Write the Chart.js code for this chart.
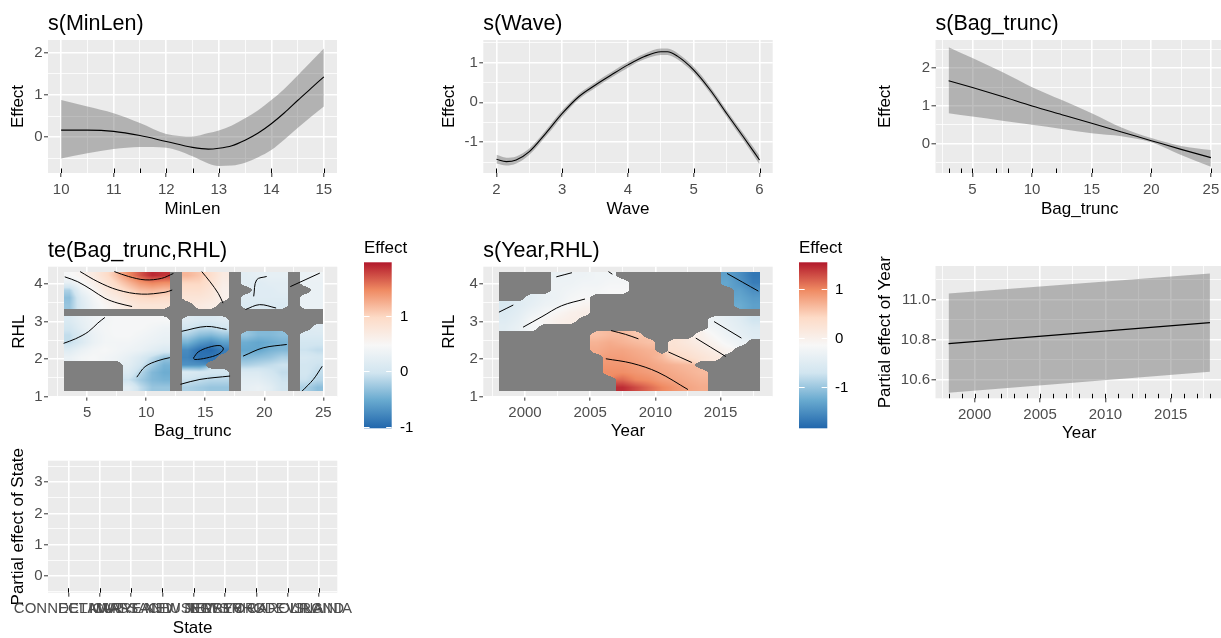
<!DOCTYPE html>
<html><head><meta charset="utf-8">
<script src="https://cdn.jsdelivr.net/npm/chart.js@4.4.1/dist/chart.umd.min.js"></script>
<style>
html,body{margin:0;padding:0;background:#fff;width:1221px;height:638px;overflow:hidden;position:relative;}
canvas{position:absolute;}
</style></head><body>
<script>
const N = null;
// ---------- s(MinLen) ----------
const minLenX     = [10, 10.5, 11, 11.5, 12, 12.5, 12.8, 13, 13.25, 13.5, 13.75, 14, 14.25, 14.5, 14.75, 15];
const minLenFit   = [0.17, 0.17, 0.14, 0.04, -0.1, -0.24, -0.28, -0.26, -0.2, -0.07, 0.1, 0.32, 0.58, 0.87, 1.15, 1.43];
const minLenUpper = [0.88, 0.73, 0.57, 0.34, 0.08, 0.02, 0.1, 0.16, 0.28, 0.45, 0.64, 0.88, 1.15, 1.46, 1.78, 2.1];
const minLenLower = [-0.5, -0.38, -0.28, -0.23, -0.25, -0.45, -0.62, -0.68, -0.67, -0.6, -0.47, -0.3, -0.05, 0.22, 0.48, 0.73];
const minLenRug   = [10, 11, 11.5, 12, 12.5, 13, 14, 15];
// ---------- s(Wave) ----------
const waveX     = [2, 2.15, 2.3, 2.5, 2.75, 3, 3.25, 3.5, 3.75, 4, 4.25, 4.5, 4.6, 4.75, 5, 5.25, 5.5, 5.75, 6];
const waveFit   = [-1.43, -1.49, -1.45, -1.24, -0.78, -0.28, 0.14, 0.43, 0.69, 0.94, 1.15, 1.27, 1.27, 1.16, 0.81, 0.31, -0.28, -0.86, -1.45];
const waveUpper = [-1.32, -1.39, -1.36, -1.16, -0.7, -0.2, 0.21, 0.5, 0.76, 1.01, 1.22, 1.35, 1.35, 1.24, 0.89, 0.39, -0.2, -0.77, -1.34];
const waveLower = [-1.54, -1.59, -1.54, -1.32, -0.86, -0.36, 0.07, 0.36, 0.62, 0.87, 1.08, 1.19, 1.19, 1.08, 0.73, 0.23, -0.36, -0.95, -1.56];
const waveRug   = [2, 3, 4, 5, 6];
// ---------- s(Bag_trunc) ----------
const bagX     = [3, 5, 7.5, 10, 12.5, 15, 17.5, 20, 22.5, 25];
const bagFit   = [1.67, 1.49, 1.25, 1.0, 0.77, 0.54, 0.31, 0.08, -0.15, -0.37];
const bagUpper = [2.56, 2.27, 1.9, 1.5, 1.16, 0.81, 0.43, 0.15, -0.06, -0.17];
const bagLower = [0.81, 0.72, 0.61, 0.5, 0.39, 0.28, 0.2, 0.04, -0.3, -0.61];
const bagRug   = [3, 4, 5, 7, 8, 10, 12, 15, 20, 25];
// ---------- te(Bag_trunc,RHL) ----------
const teBagEdges = [3,4,5,6,7,8,9,10,11,12,13,14,15,16,17,18,19,20,21,22,23,24,25];
const rhlEdges   = [4.33, 4.131, 3.933, 3.734, 3.535, 3.336, 3.138, 2.939, 2.74, 2.541, 2.343, 2.144, 1.945, 1.746, 1.548, 1.349, 1.15];
const teGrid = [
 [0.45,0.55,0.7,0.9,1.15,1.45,1.7,1.9,1.85,N,1.2,1.1,0.9,0.7,N,0.2,0.25,0.25,0.25,N,0.3,0.35],
 [0.25,0.45,0.6,0.8,1.0,1.2,1.4,1.5,1.45,N,1.0,1.0,0.85,0.65,N,0.2,0.15,0.2,0.2,N,0.3,0.3],
 [-0.2,0.3,0.5,0.7,0.85,1.0,1.15,1.2,1.15,N,0.9,0.9,0.8,0.6,N,N,0.15,0.15,0.2,N,N,0.3],
 [-0.35,0.15,0.4,0.6,0.7,0.85,0.95,1.0,0.95,N,0.8,0.8,0.75,0.6,N,0.15,0.15,0.15,0.15,N,0.3,0.3],
 [-0.3,0.1,0.35,0.5,0.6,0.7,0.8,0.8,0.8,N,N,0.7,0.65,N,N,0.1,0.1,0.1,0.1,N,0.3,0.3],
 [N,N,N,N,N,N,N,N,N,N,N,N,N,N,N,N,N,N,N,N,N,N],
 [0.1,0.25,0.35,0.4,0.45,0.45,0.45,0.45,0.45,N,0.15,0.1,0.1,0.15,N,N,N,N,N,N,N,N],
 [0.0,0.2,0.35,0.42,0.45,0.45,0.45,0.4,0.35,N,0.0,-0.1,-0.1,0.0,N,N,N,N,N,N,N,0.15],
 [-0.1,0.1,0.3,0.4,0.45,0.45,0.4,0.35,0.3,N,-0.2,-0.35,-0.4,-0.3,N,-0.3,-0.4,-0.4,-0.35,N,0.1,0.1],
 [-0.1,0.1,0.3,0.4,0.4,0.4,0.35,0.3,0.25,N,-0.45,-0.65,-0.75,-0.6,N,-0.5,-0.55,-0.5,-0.45,N,0.0,0.0],
 [0.15,0.3,0.4,0.45,0.4,0.35,0.3,0.2,0.1,N,-0.75,-0.95,-1.0,-0.85,N,-0.55,-0.55,-0.45,-0.4,N,-0.05,-0.1],
 [0.3,0.4,0.45,0.4,0.35,0.25,0.1,-0.1,-0.3,N,-0.8,-0.95,-0.9,N,N,-0.4,-0.35,-0.3,-0.2,N,0.05,0.0],
 [N,N,N,N,N,0.2,0.0,-0.25,-0.45,N,-0.7,-0.7,N,N,N,-0.2,-0.15,-0.1,-0.05,N,0.0,-0.05],
 [N,N,N,N,N,0.1,-0.15,-0.4,-0.5,N,0.1,0.05,0.0,0.0,N,0.1,0.1,0.0,-0.1,N,0.0,-0.1],
 [N,N,N,N,N,-0.05,-0.25,-0.4,-0.45,N,-0.05,-0.1,-0.15,-0.15,N,0.2,0.2,0.1,-0.05,N,-0.05,-0.15],
 [N,N,N,N,N,0.2,-0.1,-0.3,-0.3,N,-0.2,-0.25,-0.3,-0.3,N,0.25,0.3,0.2,0.0,N,-0.2,-0.35]
];
const teLimits = [-1.03, 1.97];
const teContours = [
 [[7.3,4.33],[8.5,4.2],[9.9,4.11],[11.3,4.15],[12.3,4.28]],
 [[4.4,4.33],[5.9,4.06],[7.6,3.84],[9.6,3.73],[11.6,3.78],[12.2,3.84]],
 [[3.1,4.19],[4.2,4.06],[5.4,3.84],[6.5,3.62],[7.6,3.49],[8.8,3.4]],
 [[14.7,4.33],[15.4,4.06],[16.1,3.75],[16.5,3.49]],
 [[19.1,3.67],[19.35,4.11],[20.2,4.2]],
 [[18.4,3.32],[19.6,3.45],[21.0,3.36]],
 [[22.2,3.93],[24.7,4.29]],
 [[3.0,2.42],[4.0,2.54],[5.1,2.73],[5.9,2.96],[6.5,3.11]],
 [[14.0,2.03],[14.4,2.19],[15.25,2.31],[16.24,2.36],[16.53,2.27],[16.1,2.13],[15.1,2.03],[14.1,1.99],[14.0,2.03]],
 [[9.2,1.52],[9.9,1.8],[11.0,1.96],[12.0,2.04]],
 [[13.0,2.74],[15.1,2.87],[16.8,2.79]],
 [[18.2,2.08],[19.9,2.3],[21.9,2.39]],
 [[23.2,1.15],[24.15,1.46],[24.9,1.81]],
 [[12.9,1.33],[14.55,1.46],[17.1,1.55]]
];
// ---------- s(Year,RHL) ----------
const yearEdges = [1998,1999,2000,2001,2002,2003,2004,2005,2006,2007,2008,2009,2010,2011,2012,2013,2014,2015,2016,2017,2018];
const yrGrid = [
 [N,N,N,N,-0.35,-0.3,-0.3,-0.25,-0.25,N,N,N,N,N,N,N,N,-1.35,-1.5,-1.7],
 [N,N,N,N,-0.3,-0.3,-0.25,-0.25,-0.2,-0.2,N,N,N,N,N,N,N,-1.3,-1.45,-1.65],
 [N,N,N,N,-0.3,-0.25,-0.2,-0.2,-0.15,-0.15,N,N,N,N,N,N,N,N,-1.35,-1.5],
 [N,N,-0.45,-0.35,-0.3,-0.2,-0.15,N,N,N,N,N,N,N,N,N,N,N,-1.3,-1.4],
 [-0.6,-0.5,-0.4,-0.3,-0.25,-0.15,-0.05,N,N,N,N,N,N,N,N,N,N,N,-1.25,-1.35],
 [-0.55,-0.45,-0.3,-0.2,-0.1,0.0,0.05,N,N,N,N,N,N,N,N,N,N,N,N,N],
 [-0.5,-0.4,-0.2,-0.1,0.0,0.05,N,N,N,N,N,N,N,N,N,N,-0.3,-0.4,-0.5,-0.7],
 [-0.45,-0.35,-0.2,N,N,N,N,N,N,N,N,N,N,N,N,N,-0.25,-0.35,-0.45,-0.55],
 [N,N,N,N,N,N,N,0.6,0.65,0.65,0.55,N,N,N,N,0.0,-0.15,-0.3,-0.4,-0.5],
 [N,N,N,N,N,N,N,0.7,0.75,0.7,0.65,0.6,N,0.25,0.15,0.05,-0.05,-0.2,-0.3,N],
 [N,N,N,N,N,N,N,0.75,0.8,0.8,0.75,0.7,N,0.3,0.25,0.15,0.05,-0.05,N,N],
 [N,N,N,N,N,N,N,N,0.85,0.85,0.8,0.75,0.65,0.45,0.35,0.25,0.15,N,N,N],
 [N,N,N,N,N,N,N,N,0.9,0.9,0.85,0.8,0.75,0.7,0.65,N,N,N,N,N],
 [N,N,N,N,N,N,N,N,0.95,0.95,0.9,0.85,0.8,0.75,0.7,0.65,N,N,N,N],
 [N,N,N,N,N,N,N,N,N,1.15,1.0,0.95,0.85,0.8,0.75,0.7,N,N,N,N],
 [N,N,N,N,N,N,N,N,N,1.45,1.3,1.15,1.0,0.9,0.8,0.75,N,N,N,N]
];
const yrLimits = [-1.84, 1.55];
const yrContours = [
 [[1998.0,3.25],[1999.1,3.44]],
 [[1999.85,2.85],[2001.3,3.13],[2002.8,3.42],[2004.6,3.6]],
 [[2002.4,4.19],[2003.6,4.3]],
 [[2006.4,4.33],[2006.7,4.26]],
 [[2015.5,4.28],[2017.9,3.81]],
 [[2006.6,2.76],[2007.7,2.66],[2008.7,2.54]],
 [[2006.2,2.01],[2008.2,1.89],[2010.2,1.65],[2012.5,1.19]],
 [[2011.0,2.19],[2012.8,1.91]],
 [[2013.1,2.56],[2015.4,2.07]],
 [[2014.5,3.0],[2016.6,2.56]]
];
// ---------- Partial effect of Year ----------
const yearX     = [1998, 2018];
const yearFit   = [10.78, 10.885];
const yearUpper = [11.03, 11.13];
const yearLower = [10.535, 10.64];
const yearRug   = [1998,1999,2000,2001,2002,2003,2004,2005,2006,2007,2008,2009,2010,2011,2012,2013,2014,2015,2016,2017,2018];
// ---------- Partial effect of State ----------
const stateNames = ['CONNECTICUT','DELAWARE','MARYLAND','MASSACHUSETTS','NEW JERSEY','NEW YORK','NORTH CAROLINA','RHODE ISLAND','VIRGINIA'];
const statePos   = [1,2,3,4,5,6,7,8,9];

// ================= rendering =================
const FONT = '"Liberation Sans", Arial, Helvetica, sans-serif';
const TITLE_PX = 21.5, AXT_PX = 17, TICK_PX = 15;
const RIBBON = 'rgba(100,100,100,0.42)';
const RDBU = ['#2166AC','#67A9CF','#D1E5F0','#F7F7F7','#FDDBC7','#EF8A62','#B2182B'];
const RDBU_RGB = RDBU.map(h => [1,3,5].map(i => parseInt(h.substr(i,2),16)));
Chart.defaults.font.family = FONT;
Chart.defaults.color = '#4D4D4D';
Chart.defaults.animation = false;

function rampRGB(v, lo, hi) {
  let t = (v - lo) / (hi - lo); t = Math.max(0, Math.min(1, t));
  const p = t * (RDBU_RGB.length - 1);
  const i = Math.min(Math.floor(p), RDBU_RGB.length - 2), f = p - i;
  const a = RDBU_RGB[i], b = RDBU_RGB[i+1];
  return a.map((c,k) => Math.round(c + (b[k]-c)*f));
}
const clamp = (v, a, b) => Math.max(a, Math.min(b, v));
const pts = (xs, ys) => xs.map((x,i) => ({x, y: ys[i]}));
function ribbonSets(xs, fit, up, lo) {
  return [
    {data: pts(xs, fit), borderColor:'#000', borderWidth:1.1, pointRadius:0, fill:false, cubicInterpolationMode:'monotone'},
    {data: pts(xs, up), borderWidth:0, borderColor:'rgba(0,0,0,0)', pointRadius:0, fill:'+1', backgroundColor:RIBBON, cubicInterpolationMode:'monotone'},
    {data: pts(xs, lo), borderWidth:0, borderColor:'rgba(0,0,0,0)', pointRadius:0, fill:false, cubicInterpolationMode:'monotone'}
  ];
}
function contourSets(list) {
  return list.map(c => ({data: c.map(p => ({x:p[0], y:p[1]})), borderColor:'#000', borderWidth:1, pointRadius:0, fill:false, tension:0.35}));
}

function axisCfg(ax, isX, size, titlePad) {
  const all = ax.majors.concat(ax.minors || []).sort((a,b) => a-b);
  const isMajor = v => ax.majors.some(m => Math.abs(m - v) < 1e-9);
  const maj = c => c && c.tick && isMajor(c.tick.value);
  return {
    type:'linear', min:ax.min, max:ax.max, position: isX ? 'bottom' : 'left',
    afterBuildTicks: s => { s.ticks = all.map(v => ({value:v})); },
    afterFit: s => { if (isX) s.height = size; else s.width = size; },
    ticks: {autoSkip:false, maxRotation:0, minRotation:0, padding: isX ? 3.5 : 1.5,
      font:{size:TICK_PX}, color:'#4D4D4D',
      callback: v => isMajor(v) ? ax.label(v) : ''},
    grid: {color:'#FFFFFF', lineWidth: c => maj(c) ? 1.6 : 0.8, drawTicks:true, tickLength:4, tickWidth:1,
      tickColor: c => maj(c) ? '#333333' : 'rgba(0,0,0,0)'},
    border: {display:false},
    title: {display:true, text:ax.title, color:'#000', font:{size:AXT_PX}, padding:titlePad}
  };
}

function drawHeat(chart, h) {
  const xs = chart.scales.x, ys = chart.scales.y, ctx = chart.ctx;
  const nR = h.grid.length, nC = h.grid[0].length;
  const xa = xs.getPixelForValue(h.xEdges[0]), xb = xs.getPixelForValue(h.xEdges[nC]);
  const ya = ys.getPixelForValue(h.yEdges[0]), yb = ys.getPixelForValue(h.yEdges[nR]);
  const px0 = Math.round(Math.min(xa, xb)), px1 = Math.round(Math.max(xa, xb));
  const py0 = Math.round(Math.min(ya, yb)), py1 = Math.round(Math.max(ya, yb));
  const W = px1 - px0, H = py1 - py0;
  const img = ctx.createImageData(W, H);
  const cw = (h.xEdges[nC] - h.xEdges[0]) / nC, rh = (h.yEdges[nR] - h.yEdges[0]) / nR;
  for (let j = 0; j < H; j++) {
    const yv = ys.getValueForPixel(py0 + j + 0.5);
    const fy = clamp((yv - h.yEdges[0]) / rh - 0.5, 0, nR - 1);
    const r0 = Math.min(Math.floor(fy), nR - 2), ty = fy - r0;
    for (let i = 0; i < W; i++) {
      const xv = xs.getValueForPixel(px0 + i + 0.5);
      const fx = clamp((xv - h.xEdges[0]) / cw - 0.5, 0, nC - 1);
      const c0 = Math.min(Math.floor(fx), nC - 2), tx = fx - c0;
      const cs = [[r0, c0, (1-ty)*(1-tx)], [r0, c0+1, (1-ty)*tx], [r0+1, c0, ty*(1-tx)], [r0+1, c0+1, ty*tx]];
      let m = 0, s = 0;
      for (const [r, c, w] of cs) { const v = h.grid[r][c]; if (v !== null) { m += w; s += w * v; } }
      const rgb = m < 0.5 ? [127,127,127] : rampRGB(s / m, h.lim[0], h.lim[1]);
      const k = (j * W + i) * 4;
      img.data[k] = rgb[0]; img.data[k+1] = rgb[1]; img.data[k+2] = rgb[2]; img.data[k+3] = 255;
    }
  }
  ctx.putImageData(img, px0, py0);
}

function makePanel(cfg) {
  const B = cfg.box, A = cfg.area;
  const cv = document.createElement('canvas');
  cv.width = B.w; cv.height = B.h;
  cv.style.left = B.x + 'px'; cv.style.top = B.y + 'px';
  cv.style.width = B.w + 'px'; cv.style.height = B.h + 'px';
  document.body.appendChild(cv);
  const yW = A.l - B.x, xH = B.y + B.h - A.b;
  const lh = AXT_PX * 1.2;
  const plugin = {
    id: 'panel' + cfg.id,
    beforeDraw(chart) {
      const {ctx, chartArea:a} = chart;
      ctx.save(); ctx.fillStyle = '#EBEBEB';
      ctx.fillRect(a.left, a.top, a.right - a.left, a.bottom - a.top); ctx.restore();
    },
    beforeDatasetsDraw(chart) { if (cfg.heat) drawHeat(chart, cfg.heat); },
    afterDatasetsDraw(chart) {
      if (!cfg.rug) return;
      const {ctx, chartArea:a} = chart, xs = chart.scales.x;
      ctx.save(); ctx.strokeStyle = '#000'; ctx.lineWidth = 1;
      cfg.rug.forEach(v => {
        const px = Math.round(xs.getPixelForValue(v)) + 0.5;
        ctx.beginPath(); ctx.moveTo(px, a.bottom - 4.5); ctx.lineTo(px, a.bottom); ctx.stroke();
      });
      ctx.restore();
    },
    afterDraw(chart) {
      const {ctx, chartArea:a} = chart;
      ctx.save();
      if (cfg.title) {
        ctx.font = TITLE_PX + 'px ' + FONT; ctx.fillStyle = '#000';
        ctx.textAlign = 'left'; ctx.textBaseline = 'alphabetic';
        ctx.fillText(cfg.title, a.left, a.top - 10);
      }
      if (cfg.legend) {
        const L = cfg.legend;
        const lx = L.x - B.x, top = L.top - B.y, bot = L.bottom - B.y;
        const g = ctx.createLinearGradient(0, bot, 0, top);
        RDBU.forEach((col, i) => g.addColorStop(i / (RDBU.length - 1), col));
        ctx.fillStyle = g; ctx.fillRect(lx, top, L.w, bot - top);
        ctx.font = TICK_PX + 'px ' + FONT; ctx.textBaseline = 'middle'; ctx.textAlign = 'left';
        L.ticks.forEach(t => {
          const py = Math.round(bot - (t - L.lim[0]) / (L.lim[1] - L.lim[0]) * (bot - top)) + 0.5;
          ctx.strokeStyle = '#FFFFFF'; ctx.lineWidth = 1;
          ctx.beginPath(); ctx.moveTo(lx, py); ctx.lineTo(lx + L.w/5, py);
          ctx.moveTo(lx + L.w - L.w/5, py); ctx.lineTo(lx + L.w, py); ctx.stroke();
          ctx.fillStyle = '#000'; ctx.fillText(String(t), L.labelX - B.x, py);
        });
        ctx.font = AXT_PX + 'px ' + FONT; ctx.textBaseline = 'alphabetic'; ctx.fillStyle = '#000';
        ctx.fillText(L.title, lx, L.titleY - B.y);
      }
      ctx.restore();
    }
  };
  new Chart(cv, {
    type:'line',
    data:{datasets: cfg.datasets},
    options:{
      responsive:false, animation:false, devicePixelRatio:1,
      layout:{padding:{top: A.t - B.y, right: B.x + B.w - A.r, left:0, bottom:0}},
      plugins:{legend:{display:false}, tooltip:{enabled:false}},
      elements:{point:{radius:0}},
      scales:{
        x: axisCfg(cfg.x, true, xH, {bottom: B.h - (cfg.xTitleY - B.y) - lh/2, top:0}),
        y: axisCfg(cfg.y, false, yW, {top: cfg.yTitleX - B.x - lh/2, bottom:0})
      }
    },
    plugins:[plugin]
  });
}

const num = v => String(Math.round(v*100)/100);

makePanel({id:1, title:'s(MinLen)', box:{x:0,y:0,w:405,h:225}, area:{l:48,t:40,r:337,b:173},
  yTitleX:18.5, xTitleY:209.5, rug:minLenRug,
  x:{min:9.75, max:15.25, majors:[10,11,12,13,14,15], minors:[10.5,11.5,12.5,13.5,14.5], label:num, title:'MinLen'},
  y:{min:-0.845, max:2.3, majors:[0,1,2], minors:[-0.5,0.5,1.5], label:num, title:'Effect'},
  datasets: ribbonSets(minLenX, minLenFit, minLenUpper, minLenLower)});

makePanel({id:2, title:'s(Wave)', box:{x:415,y:0,w:400,h:225}, area:{l:483.3,t:40,r:772.7,b:173},
  yTitleX:449, xTitleY:209.5, rug:waveRug,
  x:{min:1.8, max:6.2, majors:[2,3,4,5,6], minors:[2.5,3.5,4.5,5.5], label:num, title:'Wave'},
  y:{min:-1.776, max:1.565, majors:[-1,0,1], minors:[-1.5,-0.5,0.5,1.5], label:num, title:'Effect'},
  datasets: ribbonSets(waveX, waveFit, waveUpper, waveLower)});

makePanel({id:3, title:'s(Bag_trunc)', box:{x:840,y:0,w:400,h:225}, area:{l:935.5,t:40,r:1224,b:173},
  yTitleX:885, xTitleY:209.5, rug:bagRug,
  x:{min:1.9, max:26.1, majors:[5,10,15,20,25], minors:[2.5,7.5,12.5,17.5,22.5], label:num, title:'Bag_trunc'},
  y:{min:-0.777, max:2.75, majors:[0,1,2], minors:[-0.5,0.5,1.5,2.5], label:num, title:'Effect'},
  datasets: ribbonSets(bagX, bagFit, bagUpper, bagLower)});

makePanel({id:4, title:'te(Bag_trunc,RHL)', box:{x:0,y:222,w:430,h:222}, area:{l:48,t:266.7,r:337.3,b:396.7},
  yTitleX:19.5, xTitleY:431,
  heat:{grid:teGrid, xEdges:teBagEdges, yEdges:rhlEdges, lim:teLimits},
  legend:{title:'Effect', x:364, w:27.7, top:262.3, bottom:428.3, lim:teLimits, ticks:[-1,0,1], labelX:400, titleY:253},
  x:{min:1.68, max:26.18, majors:[5,10,15,20,25], minors:[2.5,7.5,12.5,17.5,22.5], label:num, title:'Bag_trunc'},
  y:{min:1.0, max:4.46, majors:[1,2,3,4], minors:[1.5,2.5,3.5], label:num, title:'RHL'},
  datasets: contourSets(teContours)});

makePanel({id:5, title:'s(Year,RHL)', box:{x:415,y:222,w:445,h:222}, area:{l:483.3,t:266.7,r:772.7,b:396.7},
  yTitleX:449, xTitleY:431,
  heat:{grid:yrGrid, xEdges:yearEdges, yEdges:rhlEdges, lim:yrLimits},
  legend:{title:'Effect', x:799, w:28.3, top:262.3, bottom:428.3, lim:yrLimits, ticks:[-1,0,1], labelX:835, titleY:253},
  x:{min:1996.8, max:2019, majors:[2000,2005,2010,2015], minors:[1997.5,2002.5,2007.5,2012.5,2017.5], label:v => String(v), title:'Year'},
  y:{min:1.0, max:4.46, majors:[1,2,3,4], minors:[1.5,2.5,3.5], label:num, title:'RHL'},
  datasets: contourSets(yrContours)});

makePanel({id:6, title:null, box:{x:860,y:222,w:380,h:222}, area:{l:935.5,t:266,r:1223,b:398.3},
  yTitleX:885, xTitleY:433, rug:yearRug,
  x:{min:1997, max:2019, majors:[2000,2005,2010,2015], minors:[1997.5,2002.5,2007.5,2012.5,2017.5], label:v => String(v), title:'Year'},
  y:{min:10.507, max:11.168, majors:[10.6,10.8,11.0], minors:[10.7,10.9,11.1], label:v => v.toFixed(1), title:'Partial effect of Year'},
  datasets: ribbonSets(yearX, yearFit, yearUpper, yearLower)});

makePanel({id:7, title:null, box:{x:0,y:435,w:430,h:203}, area:{l:48,t:460.7,r:337.3,b:592.7},
  yTitleX:18.5, xTitleY:628, rug:statePos,
  x:{min:0.35, max:9.58, majors:statePos, minors:[], label:v => stateNames[Math.round(v)-1], title:'State'},
  y:{min:-0.546, max:3.69, majors:[0,1,2,3], minors:[-0.5,0.5,1.5,2.5,3.5], label:num, title:'Partial effect of State'},
  datasets: []});
</script>
</body></html>
